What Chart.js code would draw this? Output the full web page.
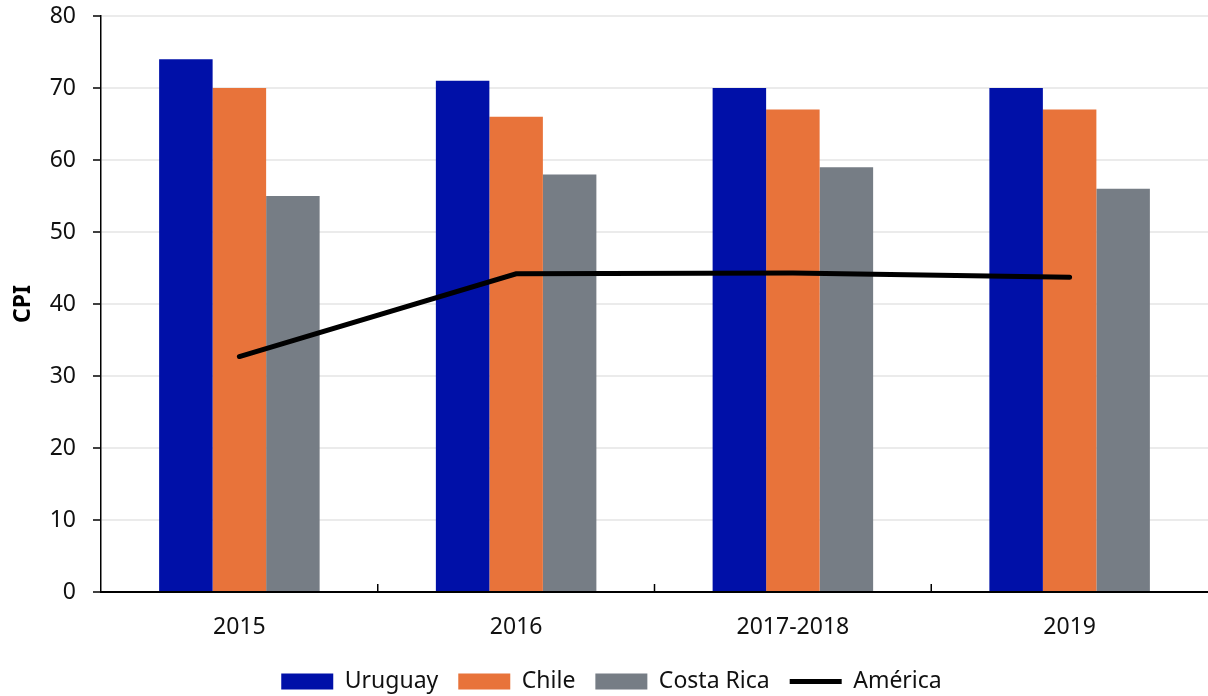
<!DOCTYPE html>
<html>
<head>
<meta charset="utf-8">
<script src="https://cdn.jsdelivr.net/npm/chart.js@4"></script>
<style>
  html, body { margin: 0; padding: 0; background: #fff; }
  #wrap { width: 1208px; height: 696px; position: relative; }
</style>
</head>
<body>
<div id="wrap"><canvas id="cpiChart" width="1208" height="696"></canvas></div>
<script>
// categories and series
var years = ["2015", "2016", "2017-2018", "2019"];
var uruguay = [74, 71, 70, 70];
var chile = [70, 66, 67, 67];
var costaRica = [55, 58, 59, 56];
var america = [32.7, 44.2, 44.3, 43.7];
var yTicks = [0, 10, 20, 30, 40, 50, 60, 70, 80];

var fontFamily = "'Noto Sans', sans-serif";

// small inward tick marks between the categories on the x axis,
// and the legend nudged a little lower
var extras = {
    id: "extras",
    afterLayout: function (chart) {
        chart.legend.top += 7;
        chart.legend.bottom += 7;
    },
    afterDraw: function (chart) {
        var x = chart.scales.x;
        var ctx = chart.ctx;
        ctx.save();
        ctx.strokeStyle = "#000";
        ctx.lineWidth = 1.5;
        for (var i = 1; i < years.length; i++) {
            var px = (x.getPixelForValue(i - 1) + x.getPixelForValue(i)) / 2;
            ctx.beginPath();
            ctx.moveTo(px, x.top);
            ctx.lineTo(px, x.top - 8);
            ctx.stroke();
        }
        ctx.restore();
    }
};

var ctx = document.getElementById("cpiChart");
var cpiChart = new Chart(ctx, {
    type: "bar",
    data: {
        labels: years,
        datasets: [
            {
                label: "Uruguay",
                data: uruguay,
                backgroundColor: "#0010A8",
                order: 1
            },
            {
                label: "Chile",
                data: chile,
                backgroundColor: "#E8733A",
                order: 1
            },
            {
                label: "Costa Rica",
                data: costaRica,
                backgroundColor: "#767D85",
                order: 1
            },
            {
                type: "line",
                label: "América",
                data: america,
                borderColor: "#000",
                backgroundColor: "#000",
                borderWidth: 5,
                borderCapStyle: "round",
                pointRadius: 0,
                tension: 0,
                order: 0
            }
        ]
    },
    options: {
        responsive: false,
        animation: false,
        devicePixelRatio: 1,
        layout: { padding: { top: 0, right: -5, bottom: 0, left: 10 } },
        datasets: {
            bar: { barPercentage: 1, categoryPercentage: 0.58 }
        },
        scales: {
            x: {
                grid: { display: false, drawTicks: false },
                border: { color: "#000", width: 2 },
                ticks: { color: "#111", padding: 22, maxRotation: 0, font: { family: fontFamily, size: 23 } },
                afterFit: function (scale) { scale.height = 51; }
            },
            y: {
                min: 0,
                max: 80,
                afterBuildTicks: function (axis) {
                    axis.ticks = yTicks.map(function (v) { return { value: v }; });
                },
                afterFit: function (scale) {
                    scale.width = 91;
                    scale.paddingTop = 16;
                },
                grid: { color: "#ebebeb", lineWidth: 2, tickColor: "#000", tickLength: 8, tickWidth: 1.5 },
                border: { color: "#000", width: 1.5 },
                ticks: { color: "#111", padding: 17, font: { family: fontFamily, size: 23 } },
                title: {
                    display: true,
                    text: "CPI",
                    color: "#000",
                    padding: { top: 0, bottom: 10 },
                    font: { family: fontFamily, size: 23, weight: "bold" }
                }
            }
        },
        plugins: {
            tooltip: { enabled: false },
            legend: {
                position: "bottom",
                labels: {
                    color: "#111",
                    font: { family: fontFamily, size: 23 },
                    usePointStyle: true,
                    pointStyleWidth: 52,
                    boxHeight: 16,
                    padding: 20,
                    sort: function (a, b) { return a.datasetIndex - b.datasetIndex; },
                    generateLabels: function (chart) {
                        var items = Chart.defaults.plugins.legend.labels.generateLabels(chart);
                        items.forEach(function (item) {
                            if (item.datasetIndex === 3) {
                                item.pointStyle = "line";
                                item.lineWidth = 5;
                                item.strokeStyle = "#000";
                            } else {
                                item.pointStyle = "rect";
                                item.lineWidth = 0;
                            }
                        });
                        return items;
                    }
                }
            }
        }
    },
    plugins: [extras]
});
</script>
</body>
</html>
